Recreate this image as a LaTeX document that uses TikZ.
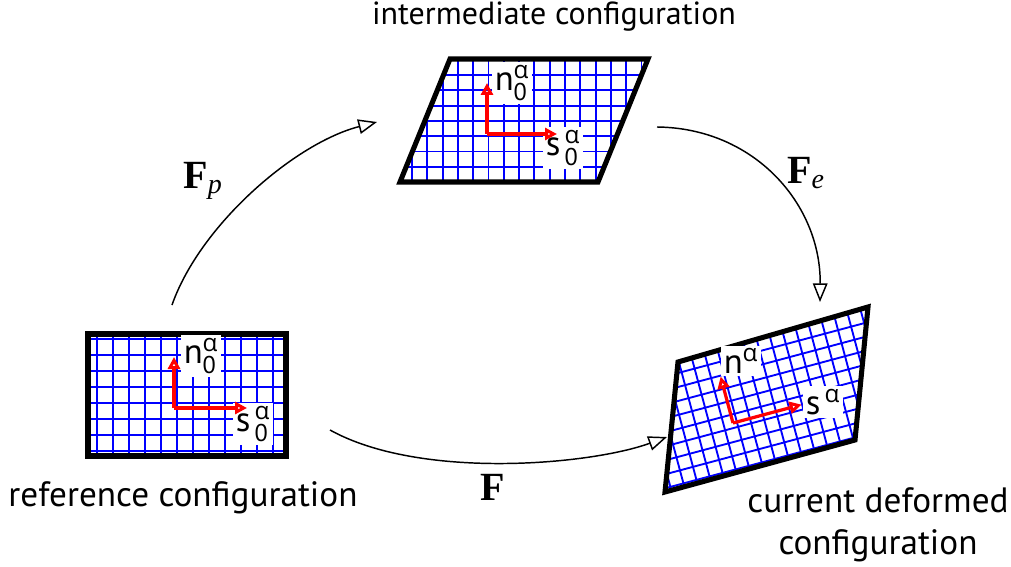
\documentclass[tikz,border=0pt]{standalone}
\usepackage{amsmath}
\usepackage{fontspec}
\setmainfont{PT Sans}
\newfontfamily\greekfont{Open Sans}
\newfontfamily\mapfont{Liberation Serif}
\usetikzlibrary{arrows.meta}

\tikzset{every picture/.style={line width=0.75pt}}
\tikzset{
  gridline/.style={color=blue, line width=1.4pt},
  frame/.style={line width=3.8pt, line join=miter},
  slipvec/.style={color=red, line width=2.4pt, -{Triangle[open, length=9pt, width=9pt]}},
  mapline/.style={line width=1.1pt, -{Triangle[open, length=14pt, width=11pt]}},
  veclabel/.style={fill=white, inner sep=2pt, font=\fontsize{26}{28}\selectfont},
  cfglabel/.style={font=\fontsize{26.4}{31.5}\selectfont, align=center},
  maplabel/.style={font=\fontsize{30}{32}\selectfont}
}
\newcommand{\galpha}{\text{\greekfont α}}
\newcommand{\mapF}[1]{$\text{\mapfont\bfseries F}_{\text{\mapfont\itshape #1}}$}

\begin{document}
\begin{tikzpicture}[x=0.75pt,y=0.75pt,yscale=-1,xscale=1]
\useasboundingbox (0,0) rectangle (1011,567);

%Grid: reference configuration
\begin{scope}
\clip (88,334) rectangle (286,456);
\foreach \x in {97,113,...,281} \draw[gridline] (\x,330) -- (\x,460);
\foreach \y in {339,355,...,455} \draw[gridline] (84,\y) -- (290,\y);
\end{scope}
\draw[frame] (88,334) rectangle (286,456);

%Grid: intermediate configuration
\begin{scope}
\clip (450,59) -- (648,59) -- (598,182) -- (400,182) -- cycle;
\foreach \x in {412,427.3,...,650} \draw[gridline] (\x,55) -- (\x,186);
\foreach \y in {75,90.3,...,186} \draw[gridline] (396,\y) -- (652,\y);
\end{scope}
\draw[frame] (450,59) -- (648,59) -- (598,182) -- (400,182) -- cycle;

%Grid: current deformed configuration
\begin{scope}
\clip (678,362) -- (868,307) -- (855,440) -- (665,492) -- cycle;
\begin{scope}[shift={(733,423)},rotate=-15]
\foreach \k in {-10,...,12} \draw[gridline] (\k*13.5+4,-170) -- (\k*13.5+4,150);
\foreach \k in {-12,...,10} \draw[gridline] (-170,\k*13.5+5) -- (190,\k*13.5+5);
\end{scope}
\end{scope}
\draw[frame] (678,362) -- (868,307) -- (855,440) -- (665,492) -- cycle;

% Text Node
\node[veclabel] (nref) at (201,356) {n$^{\galpha}_{\text{0}}$};
% Text Node
\node[veclabel] (sref) at (253,424) {s\kern3pt$^{\galpha}_{\text{0}}$};
% Text Node
\node[veclabel] (nint) at (512,83) {n$^{\galpha}_{\text{0}}$};
% Text Node
\node[veclabel] (sint) at (563,148) {s\kern3pt$^{\galpha}_{\text{0}}$};
% Text Node
\node[veclabel] (ncur) at (741,361) {n$^{\galpha}$};
% Text Node
\node[veclabel] (scur) at (823,402) {s\kern3pt$^{\galpha}$};

%Slip system vectors
\coordinate (oref) at (174,408);
\coordinate (oint) at (487,134);
\coordinate (ocur) at (733,423);
\draw[slipvec] (oref) -- ++(0,-51);
\draw[slipvec] (oref) -- ++(73,0);
\draw[slipvec] (oint) -- ++(0,-51);
\draw[slipvec] (oint) -- ++(70,0);
\draw[slipvec] (ocur) -- ++(-12.4,-46.4);
\draw[slipvec] (ocur) -- ++(68.6,-18.4);

%Curve Lines
\coordinate (fpstart) at (172,305);
\coordinate (fpend) at (377,122);
\coordinate (festart) at (657,127);
\coordinate (feend) at (820,302);
\coordinate (fstart) at (330,430);
\coordinate (fend) at (667,437);
\draw[mapline] (fpstart) .. controls (200,225) and (295,143) .. (fpend);
\draw[mapline] (festart) .. controls (755,128) and (821,205) .. (feend);
\draw[mapline] (fstart) .. controls (420,480) and (590,465) .. (fend);

% Text Node
\node[maplabel] (fplab) at (203,181) {\mapF{p}};
% Text Node
\node[maplabel] (felab) at (806,173) {\mapF{e}};
% Text Node
\node[maplabel] (flab) at (493,487) {$\text{\mapfont\bfseries F}$};

% Text Node
\node[cfglabel, font=\fontsize{24}{28}\selectfont] (intlab) at (554,17) {intermediate configuration};
% Text Node
\node[cfglabel] (reflab) at (183,498) {reference configuration};
% Text Node
\node[cfglabel] (curlab) at (878,525) {current deformed\\configuration};

\end{tikzpicture}
\end{document}
